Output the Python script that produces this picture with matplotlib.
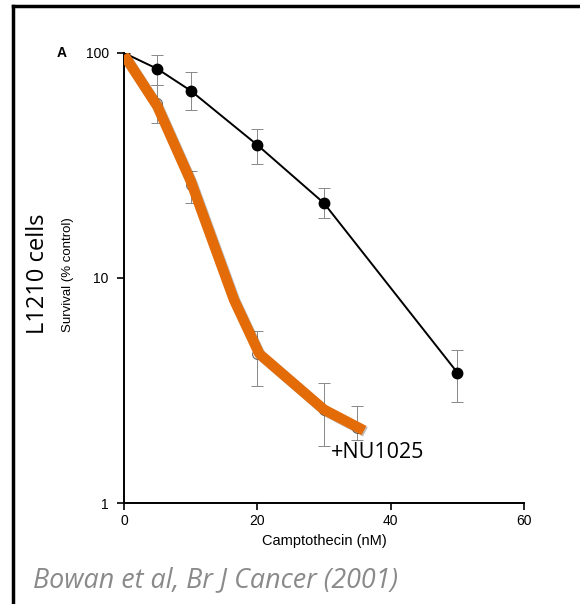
import matplotlib.pyplot as plt
import matplotlib.patheffects as pe
from matplotlib.lines import Line2D

# control (filled circles)
ctrl_dose = [0, 5, 10, 20, 30, 50]
ctrl_surv = [100, 85, 68, 39, 21.5, 3.8]
ctrl_lo = [100, 72, 56, 32, 18.5, 2.8]
ctrl_hi = [100, 98, 82, 46, 25, 4.8]

# + NU1025 (open circles)
nu_dose = [5, 10, 20, 30, 35]
nu_surv = [60, 26, 4.6, 2.6, 2.15]
nu_lo = [49, 21.5, 3.3, 1.8, 1.9]
nu_hi = [72, 30, 5.8, 3.4, 2.7]

# hand-drawn orange overlay
hl_dose = [0, 5, 10, 16.5, 20.3, 30, 36]
hl_surv = [98, 58, 27, 8.0, 4.6, 2.6, 2.1]

fig = plt.figure(figsize=(5.8, 6.04), dpi=100)
ax = fig.add_axes([0.2138, 0.1672, 0.6896, 0.7451])

# error bars
ax.errorbar(ctrl_dose[1:], ctrl_surv[1:],
            yerr=[[s - l for s, l in zip(ctrl_surv[1:], ctrl_lo[1:])],
                  [h - s for s, h in zip(ctrl_surv[1:], ctrl_hi[1:])]],
            fmt='none', ecolor='#888888', elinewidth=0.7, capsize=4, capthick=0.7, zorder=2)
ax.errorbar(nu_dose, nu_surv,
            yerr=[[s - l for s, l in zip(nu_surv, nu_lo)],
                  [h - s for s, h in zip(nu_surv, nu_hi)]],
            fmt='none', ecolor='#888888', elinewidth=0.7, capsize=4, capthick=0.7, zorder=2)

ax.plot(nu_dose, nu_surv, 'o', mfc='white', mec='#666666', ms=7, mew=0.8, zorder=3)
ax.plot(ctrl_dose, ctrl_surv, '-o', color='black', lw=1.4, ms=7.5, zorder=4)

ax.plot(hl_dose, hl_surv, color='#E36C09', lw=7.5, solid_capstyle='butt', zorder=5,
        path_effects=[pe.SimpleLineShadow(offset=(1, -1), alpha=0.25), pe.Normal()])

ax.set_yscale('log')
ax.set_ylim(1, 100)
ax.set_xlim(0, 60)
ax.set_xticks([0, 20, 40, 60])
ax.set_xticklabels(['0', '20', '40', '60'])
ax.set_yticks([1, 10, 100])
ax.set_yticklabels(['1', '10', '100'])
ax.minorticks_off()
for s in ['top', 'right']:
    ax.spines[s].set_visible(False)
ax.spines['left'].set_linewidth(1.4)
ax.spines['bottom'].set_linewidth(1.4)
ax.tick_params(direction='out', length=5, width=1.2, labelsize=10, pad=3)
ax.tick_params(axis='y', pad=6)
ax.set_xlabel('Camptothecin (nM)', fontsize=10.5, labelpad=4, family='Liberation Sans')
for lab in ax.get_xticklabels() + ax.get_yticklabels():
    lab.set_family('Liberation Sans')

fig.text(0.117, 0.545, 'Survival (% control)', fontsize=9.5, rotation=90, ha='center',
         va='center', family='Liberation Sans')
fig.text(0.107, 0.9123, 'A', fontsize=10, fontweight='bold', ha='center', va='center',
         family='Liberation Sans')
fig.text(0.066, 0.546, 'L1210 cells', fontsize=17, rotation=90, ha='center', va='center',
         family='Open Sans')
ax.text(31, 1.67, '+NU1025', fontsize=15.5, ha='left', va='center', family='Open Sans')
fig.text(0.057, 0.04, 'Bowan et al, Br J Cancer (2001)', fontsize=19.4, style='italic',
         color='#8a8a8a', ha='left', va='center', family='Open Sans')

# frame lines (top and left)
fig.add_artist(Line2D([0.0224, 1.0], [0.9901, 0.9901], color='black', lw=2.5,
                      transform=fig.transFigure))
fig.add_artist(Line2D([0.0224, 0.0224], [0.0, 0.9901], color='black', lw=2.5,
                      transform=fig.transFigure))

fig.savefig('out.png', dpi=100)
